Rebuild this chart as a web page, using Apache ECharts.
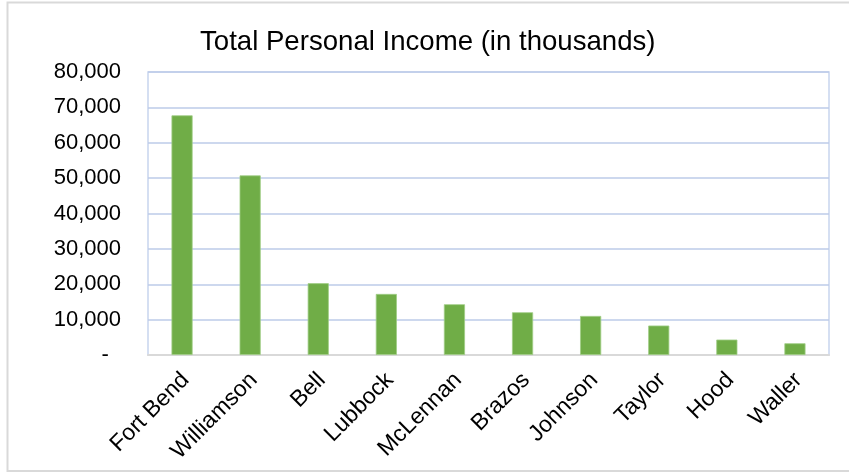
<!DOCTYPE html>
<html>
<head>
<meta charset="utf-8">
<script src="https://cdn.jsdelivr.net/npm/echarts@6/dist/echarts.min.js"></script>
<style>
  html, body { margin: 0; padding: 0; background: #fff; }
  #chart { width: 849px; height: 472px; }
</style>
</head>
<body>
<div id="chart"></div>
<script>
// Counties ranked by total personal income
const counties = ['Fort Bend', 'Williamson', 'Bell', 'Lubbock', 'McLennan', 'Brazos', 'Johnson', 'Taylor', 'Hood', 'Waller'];
const income = [67750, 50770, 20290, 17260, 14350, 12080, 11040, 8320, 4360, 3310];
const yTicks = [0, 10000, 20000, 30000, 40000, 50000, 60000, 70000, 80000];

const FONT = '"Liberation Sans", Arial, sans-serif';

const chart = echarts.init(document.getElementById('chart'), null, { renderer: 'canvas' });

chart.setOption({
  animation: false,
  backgroundColor: '#ffffff',
  title: {
    text: 'Total Personal Income (in thousands)',
    left: 195,
    top: 23,
    textStyle: { fontFamily: FONT, fontSize: 27.6, fontWeight: 'normal', color: '#000000' }
  },
  graphic: [{
    type: 'rect',
    shape: { x: 7.5, y: 2.5, width: 860, height: 468.5 },
    style: { fill: 'none', stroke: '#d9d9d9', lineWidth: 2 },
    silent: true
  }],
  grid: {
    left: 148, top: 72, right: 20, bottom: 117,
    show: true, borderColor: '#c8d5ee', borderWidth: 1.5, backgroundColor: 'transparent'
  },
  xAxis: {
    type: 'category',
    data: counties,
    axisLine: { show: true, lineStyle: { color: '#d9d9d9', width: 2 } },
    axisTick: { show: false },
    axisLabel: {
      rotate: 45,
      interval: 0,
      margin: 18,
      verticalAlign: 'top',
      lineHeight: 10,
      fontFamily: FONT,
      fontSize: 23,
      color: '#000000'
    }
  },
  yAxis: {
    type: 'value',
    min: yTicks[0],
    max: yTicks[yTicks.length - 1],
    interval: yTicks[1] - yTicks[0],
    axisLine: { show: false },
    axisTick: { show: false },
    splitLine: { lineStyle: { color: '#bccbe9', width: 1.5 } },
    axisLabel: {
      margin: 27,
      fontFamily: FONT,
      fontSize: 22,
      color: '#000000',
      formatter: v => v === 0 ? '-  ' : v.toLocaleString('en-US')
    }
  },
  series: [{
    type: 'bar',
    data: income,
    barWidth: '31%',
    itemStyle: { color: '#70ad47', borderColor: '#9fcd85', borderWidth: 0.8 }
  }]
});
</script>
</body>
</html>
